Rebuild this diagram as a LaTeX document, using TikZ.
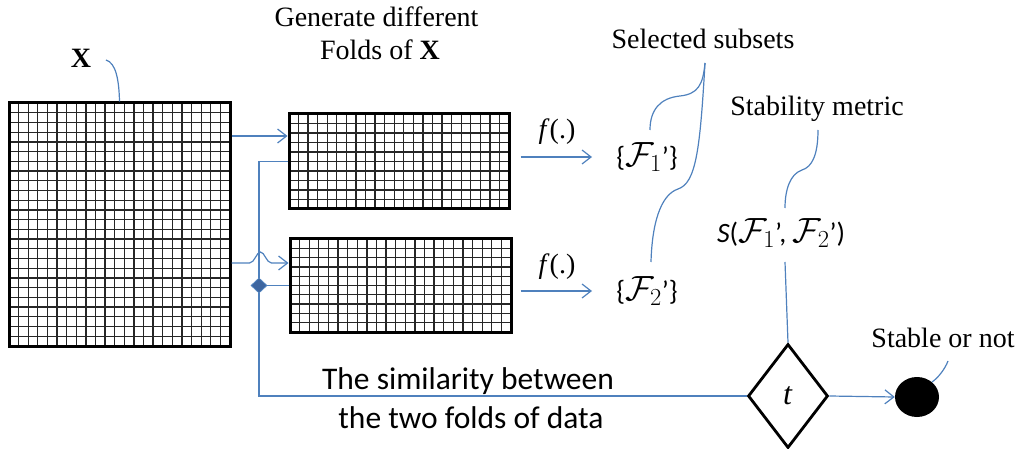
\RequirePackage{fix-cm}
\documentclass[tikz,border=0pt]{standalone}
\usepackage{fontspec}
\setmainfont{Liberation Serif}
\newfontfamily\sansx{Carlito}
\usetikzlibrary{shapes.geometric,arrows.meta,calc}
\definecolor{connblue}{RGB}{79,129,189}
\definecolor{diafill}{RGB}{62,102,160}
\newcommand\bigF[1]{{\fontsize{35}{38}\selectfont$\mathcal{F}_{#1}$}}
\tikzset{
  conn/.style={draw=connblue, line width=1.2pt},
  arr/.style={-{Straight Barb[length=9pt,width=14pt]}},
  gline/.style={draw=black!85, line width=1.3pt},
  gborder/.style={draw=black, line width=3pt, inner sep=0pt, rectangle},
  serif/.style={font=\fontsize{28}{32}\selectfont, inner sep=0pt},
  sanslbl/.style={font=\sansx\fontsize{31.5}{36}\selectfont, inner sep=0pt},
  mathlbl/.style={font=\sansx\fontsize{28}{32}\selectfont, inner sep=1pt},
}
\newcommand\mkgrid[7]{%
  \pgfmathtruncatemacro\nc{#6-1}%
  \pgfmathtruncatemacro\nr{#7-1}%
  \foreach \i in {1,...,\nc} \draw[gline] ({#2+\i*(#4-#2)/#6},#3) -- ({#2+\i*(#4-#2)/#6},#5);
  \foreach \j in {1,...,\nr} \draw[gline] (#2,{#3+\j*(#5-#3)/#7}) -- (#4,{#3+\j*(#5-#3)/#7});
  \node[gborder, minimum width={(#4-#2)*1pt}, minimum height={(#5-#3)*1pt}] (#1) at ({(#2+#4)/2},{(#3+#5)/2}) {};
}
\begin{document}
\begin{tikzpicture}[x=1pt,y=-1pt]
\useasboundingbox (0,0) rectangle (1026,449);

% grids
\mkgrid{X}{9}{103}{230}{346}{23}{25}
\mkgrid{F1}{289}{114}{509}{209}{23}{10}
\mkgrid{F2}{290}{239}{511}{332}{23}{10}

% labels
\node[serif, anchor=base, font=\bfseries\fontsize{28}{32}\selectfont] (XL) at (81,68) {X};
\node[serif, anchor=base] (GD) at (376.5,27) {Generate different};
\node[serif, anchor=base] (FX) at (380,60) {Folds of \textbf{X}};
\node[serif, anchor=base] (SS) at (703,49) {Selected subsets};
\node[serif, anchor=base] (SMT) at (817,116) {Stability metric};
\node[serif, anchor=base] (SN) at (943,347) {Stable or not};
\node[sanslbl, anchor=base] (L1) at (468,389) {The similarity between};
\node[sanslbl, anchor=base] (L2) at (471,428) {the two folds of data};

\node[serif] (fl1) at (557,132) {\textit{f}(.)};
\node[serif] (fl2) at (557,267) {\textit{f}(.)};

\node[mathlbl] (S1) at (647,157) {\{\bigF{1}’\}};
\node[mathlbl] (S2) at (647,291) {\{\bigF{2}’\}};
\node[mathlbl] (SM) at (781,233) {{\itshape S}(\bigF{1}’, \bigF{2}’)};

% decision diamond and result
\node[diamond, draw=black, line width=2.8pt, minimum width=80pt, minimum height=104pt, inner sep=0pt,
      font=\fontsize{32}{34}\selectfont] (T) at (788,396) {\textit{t}};
\node[ellipse, fill=black, minimum width=44pt, minimum height=40pt, inner sep=0pt] (E) at (917,397) {};

% small junction diamond
\node[diamond, fill=diafill, draw=connblue, line width=0.8pt, minimum width=16pt, minimum height=15pt, inner sep=0pt] (sd) at (259,285.5) {};

% connectors from X to folds
\coordinate (a1) at ([yshift=25.5pt]F1.west);
\coordinate (a2) at ([yshift=22.5pt]F2.west);
\draw[conn,arr] (X.east |- a1) -- (a1);
\draw[conn,arr] (X.east |- a2) -- ++(18,0) .. controls +(5,0) and +(-4,0) .. ++(11,-11)
      .. controls +(4,0) and +(-5,0) .. ++(11,11) -- (a2);

% similarity path
\draw[conn] (F1.west) -| (sd.north);
\draw[conn] (sd.east) -- (sd.east -| F2.west);
\draw[conn] (sd.south) |- (T.west);

% f(.) arrows
\coordinate (f1s) at ([xshift=10pt]F1.east);
\coordinate (f2s) at ([xshift=8pt]F2.east);
\coordinate (f1e) at (592,157);
\coordinate (f2e) at (592,291);
\draw[conn,arr] (f1s |- f1e) -- (f1e);
\draw[conn,arr] (f2s |- f2e) -- (f2e);

% callout curves
\coordinate (xc) at (106,60);
\draw[conn] (xc) .. controls (116,63) and (119,80) .. (X.north);
\coordinate (ssb) at (705,63);
\coordinate (c1) at (650,130);
\coordinate (c2) at (651,262);
\draw[conn] (c1) .. controls (650,110) and (660,98) .. (680,96) .. controls (698,94) and (703,85) .. (ssb);
\draw[conn] (c2) .. controls (652,225) and (660,195) .. (678,189) .. controls (696,183) and (700,150) .. (ssb);
\coordinate (smt) at (818,130);
\coordinate (smb) at (785,208);
\draw[conn] (smt) .. controls (818,155) and (812,167) .. (802,170) .. controls (790,174) and (785,190) .. (smb);
\coordinate (smd) at (785,262);
\draw[conn] (smd) -- (T.north);

% decision to result
\draw[conn,arr] (T.east) -- (E.west);
\coordinate (snb) at (948,361);
\draw[conn] (E.45) .. controls +(6,-4) and +(-3,8) .. (snb);
\end{tikzpicture}
\end{document}
